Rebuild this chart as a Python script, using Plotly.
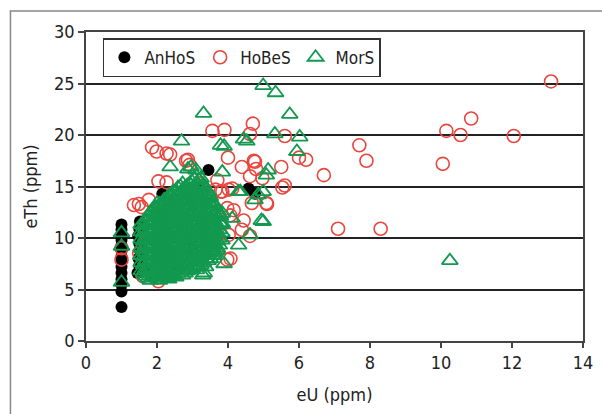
import plotly.graph_objects as go

# ---------------- data ----------------
anhos_x = [1.0, 1.0, 1.0, 1.0, 1.0, 1.0, 1.0, 1.0, 1.0, 1.0, 1.0, 1.0, 1.0, 1.0,
           1.45, 1.5, 1.48, 1.52, 1.5, 1.47, 1.5, 1.52,
           1.7, 1.9, 2.0, 2.3, 2.5, 2.6, 2.8, 3.0, 3.2,
           2.15, 3.45, 4.58, 4.76]
anhos_y = [3.3, 4.8, 5.5, 6.0, 6.6, 7.2, 7.8, 8.2, 8.8, 9.3, 9.8, 10.3, 10.8, 11.3,
           6.6, 7.3, 8.0, 8.8, 9.5, 10.2, 10.9, 11.6,
           7.0, 6.2, 12.0, 13.5, 12.8, 7.0, 14.3, 9.0, 15.0,
           14.3, 16.6, 14.8, 14.3]

hobes_x = [13.1, 10.85, 10.15, 10.55, 12.05, 10.05, 7.7, 7.9, 6.7, 7.1, 8.3,
           6.2, 6.0, 5.5, 5.6, 4.7, 4.62, 4.73, 4.79, 4.97, 5.53, 5.6, 5.1, 4.62,
           3.56, 3.9, 4.0, 4.39, 4.76, 3.7, 4.62, 4.12, 3.84, 4.02, 3.98, 4.44,
           4.39, 4.02, 4.06, 5.08, 4.67, 3.98, 4.07, 3.79, 4.16, 3.65, 3.19,
           1.86, 2.27, 2.87, 2.92, 2.04, 2.27, 1.49, 1.77, 1.35, 1.57, 2.37,
           2.82, 1.99, 1.0, 1.0, 1.5, 1.7, 2.0, 2.2, 2.04, 1.6, 2.5, 2.9, 3.3]
hobes_y = [25.2, 21.6, 20.4, 20.0, 19.9, 17.2, 19.0, 17.5, 16.1, 10.9, 10.9,
           17.6, 17.8, 16.9, 19.9, 21.1, 20.1, 17.5, 16.7, 15.8, 14.9, 15.1, 13.3, 10.2,
           20.4, 20.5, 17.8, 16.9, 17.4, 15.6, 16.0, 14.8, 14.5, 14.7, 12.9, 11.7,
           10.8, 10.3, 12.2, 13.4, 13.4, 7.9, 8.0, 14.5, 12.7, 14.7, 15.3,
           18.8, 18.2, 17.6, 17.1, 15.5, 15.4, 13.3, 13.7, 13.2, 13.0, 18.1,
           17.5, 18.4, 7.9, 9.0, 8.5, 9.5, 8.0, 10.5, 5.8, 6.3, 11.0, 9.5, 12.0]

# MorS dense cluster, read column by column (x of the column, then its y values)
mors_cluster_x = [1.55, 1.62, 1.68, 1.75, 1.81, 1.88, 1.94, 2.01, 2.07, 2.14,
                  2.20, 2.27, 2.33, 2.40, 2.46, 2.53, 2.59, 2.66, 2.72, 2.79,
                  2.85, 2.92, 2.98, 3.05, 3.11, 3.18, 3.24, 3.31, 3.37, 3.44,
                  3.50, 3.57, 3.63, 3.70, 3.76, 3.83]
mors_cluster_y = [
    [6.8, 7.6, 8.3, 9.1, 9.9, 10.6, 11.3],
    [6.6, 7.4, 8.2, 8.9, 9.7, 10.5, 11.2],
    [6.3, 7.0, 7.8, 8.6, 9.3, 10.1, 10.9, 11.7],
    [6.1, 6.9, 7.6, 8.4, 9.1, 9.9, 10.7, 11.4, 12.1],
    [5.9, 6.7, 7.4, 8.2, 9.0, 9.7, 10.5, 11.2, 12.0, 12.5],
    [6.4, 7.1, 7.9, 8.6, 9.4, 10.2, 10.9, 11.7, 12.6],
    [6.2, 6.9, 7.7, 8.5, 9.2, 10.0, 10.8, 11.5, 12.3, 13.0],
    [6.1, 6.8, 7.6, 8.3, 9.1, 9.9, 10.6, 11.4, 12.1, 12.9, 13.4],
    [5.9, 6.6, 7.3, 8.1, 8.9, 9.6, 10.4, 11.1, 11.9, 12.6, 13.3],
    [6.4, 7.2, 7.9, 8.7, 9.4, 10.2, 11.0, 11.7, 12.5, 13.2],
    [6.2, 7.0, 7.7, 8.5, 9.3, 10.0, 10.8, 11.5, 12.3, 13.0, 13.7],
    [6.1, 6.9, 7.6, 8.4, 9.1, 9.9, 10.7, 11.4, 12.2, 12.9, 13.7],
    [6.0, 6.7, 7.5, 8.2, 9.0, 9.8, 10.5, 11.3, 12.0, 12.8, 13.5, 14.1],
    [6.5, 7.2, 8.0, 8.8, 9.5, 10.3, 11.0, 11.8, 12.6, 13.3, 14.0],
    [6.3, 7.1, 7.8, 8.6, 9.4, 10.1, 10.9, 11.6, 12.4, 13.1, 13.9, 14.5],
    [6.2, 7.0, 7.7, 8.5, 9.2, 10.0, 10.8, 11.5, 12.3, 13.0, 13.8, 14.6],
    [6.6, 7.3, 8.1, 8.9, 9.6, 10.4, 11.1, 11.9, 12.7, 13.4, 14.2, 14.9],
    [6.8, 7.5, 8.3, 9.0, 9.8, 10.6, 11.3, 12.1, 12.8, 13.6, 14.3, 15.0],
    [6.4, 7.1, 7.9, 8.7, 9.4, 10.2, 10.9, 11.7, 12.5, 13.2, 14.0, 14.7, 15.3],
    [6.6, 7.3, 8.1, 8.9, 9.6, 10.4, 11.1, 11.9, 12.7, 13.4, 14.2, 14.9],
    [6.8, 7.6, 8.3, 9.1, 9.9, 10.6, 11.4, 12.1, 12.9, 13.6, 14.4, 15.1],
    [7.0, 7.8, 8.5, 9.3, 10.0, 10.8, 11.6, 12.3, 13.1, 13.8, 14.6, 15.3],
    [7.1, 7.9, 8.6, 9.4, 10.2, 10.9, 11.7, 12.4, 13.2, 14.0, 14.7, 15.5],
    [7.3, 8.1, 8.8, 9.6, 10.3, 11.1, 11.9, 12.6, 13.4, 14.1, 14.9, 15.7],
    [6.9, 7.7, 8.4, 9.2, 10.0, 10.7, 11.5, 12.2, 13.0, 13.8, 14.5, 15.3, 16.0],
    [7.2, 7.9, 8.7, 9.5, 10.2, 11.0, 11.7, 12.5, 13.3, 14.0, 14.8, 15.6],
    [7.4, 8.2, 8.9, 9.7, 10.5, 11.2, 12.0, 12.7, 13.5, 14.3, 15.0, 15.8],
    [7.6, 8.4, 9.1, 9.9, 10.7, 11.4, 12.2, 12.9, 13.7, 14.5, 15.2],
    [7.2, 8.0, 8.8, 9.5, 10.3, 11.0, 11.8, 12.6, 13.3, 14.1, 14.8],
    [7.8, 8.5, 9.3, 10.0, 10.8, 11.5, 12.3, 13.1, 13.8, 14.5],
    [8.0, 8.7, 9.5, 10.3, 11.0, 11.8, 12.5, 13.3, 14.0],
    [8.3, 9.1, 9.8, 10.6, 11.3, 12.1, 12.9, 13.5],
    [8.6, 9.4, 10.1, 10.9, 11.6, 12.4, 13.1],
    [9.0, 9.7, 10.5, 11.2, 12.0, 12.7],
    [9.3, 10.0, 10.8, 11.5, 12.3],
    [9.8, 10.5, 11.3],
]

# MorS scattered points
mors_x = [1.0, 1.0, 1.0,
          3.31, 4.99, 5.34, 5.74, 5.32, 6.02, 5.94, 5.13, 4.99, 4.99, 4.62, 10.25,
          4.53, 4.44, 3.89, 3.84, 5.08, 4.35, 2.69, 2.37, 2.87, 2.96, 3.79, 4.3,
          4.85, 3.79, 4.12, 4.3, 3.33, 3.89, 3.61, 4.94, 4.76, 3.84, 3.84, 3.7,
          3.29, 3.51, 3.1]
mors_y = [5.7, 9.2, 10.5,
          22.1, 24.8, 24.1, 22.0, 20.1, 19.8, 18.4, 16.6, 14.5, 11.6, 10.3, 7.8,
          19.4, 19.6, 18.9, 16.4, 16.1, 14.5, 19.4, 16.9, 16.7, 16.9, 19.0, 14.5,
          14.2, 12.1, 11.9, 9.3, 6.6, 7.5, 8.5, 11.7, 13.7, 12.4, 11.4, 8.8,
          6.4, 9.2, 16.6]

series_names = ["AnHoS", "HoBeS", "MorS"]
x_ticks = [0, 2, 4, 6, 8, 10, 12, 14]
y_ticks = [0, 5, 10, 15, 20, 25, 30]

# build the full MorS table from the column readings
mors_all_x = []
mors_all_y = []
for cx, ys in zip(mors_cluster_x, mors_cluster_y):
    for yv in ys:
        mors_all_x.append(cx)
        mors_all_y.append(yv)
mors_all_x += mors_x
mors_all_y += mors_y

# ---------------- figure ----------------
FONT = "Liberation Sans Narrow, DejaVu Sans Condensed, Liberation Sans, Arial, sans-serif"
RED = "#e8463e"
GREEN = "#12994f"

fig = go.Figure()
fig.add_trace(go.Scatter(
    x=anhos_x, y=anhos_y, mode="markers", name=series_names[0],
    marker=dict(symbol="circle", size=12, color="#000000",
                line=dict(width=0))))
fig.add_trace(go.Scatter(
    x=hobes_x, y=hobes_y, mode="markers", name=series_names[1],
    marker=dict(symbol="circle-open", size=13, color=RED,
                line=dict(width=1.6, color=RED))))
fig.add_trace(go.Scatter(
    x=mors_all_x, y=mors_all_y, mode="markers", name=series_names[2],
    marker=dict(symbol="triangle-up-open", size=14, color=GREEN,
                line=dict(width=1.8, color=GREEN))))

fig.update_layout(
    width=602, height=414,
    margin=dict(l=86, r=9, t=32, b=73),
    paper_bgcolor="white", plot_bgcolor="white",
    font=dict(family=FONT, size=17, color="#222"),
    showlegend=True,
    legend=dict(orientation="h", x=0.034, y=0.98, xanchor="left", yanchor="top",
                bgcolor="white", bordercolor="#333", borderwidth=1.5,
                font=dict(size=17, color="#222"), itemwidth=30,
                tracegroupgap=0),
    xaxis=dict(range=[0, 14], tickvals=x_ticks, ticks="outside", ticklen=5,
               tickwidth=1.5, tickcolor="#444", showgrid=False, zeroline=False,
               showline=True, linecolor="#444", linewidth=1.5, mirror=True,
               title=dict(text="eU (ppm)", standoff=16, font=dict(size=18)),
               tickfont=dict(size=18)),
    yaxis=dict(range=[0, 30], tickvals=y_ticks, ticks="outside", ticklen=6,
               tickwidth=1.5, tickcolor="#444", showgrid=True,
               gridcolor="#222", gridwidth=1.5, zeroline=False,
               showline=True, linecolor="#444", linewidth=1.5, mirror=True,
               title=dict(text="eTh (ppm)", standoff=12, font=dict(size=18)),
               tickfont=dict(size=18)),
    shapes=[dict(type="rect", xref="paper", yref="paper",
                 x0=-0.152, x1=1.05, y0=-0.3, y1=1.068,
                 line=dict(color="#888", width=1.5), layer="below")],
)

fig.write_html("out.html", config={"displayModeBar": False},
               post_script="document.body.style.margin='0';")
